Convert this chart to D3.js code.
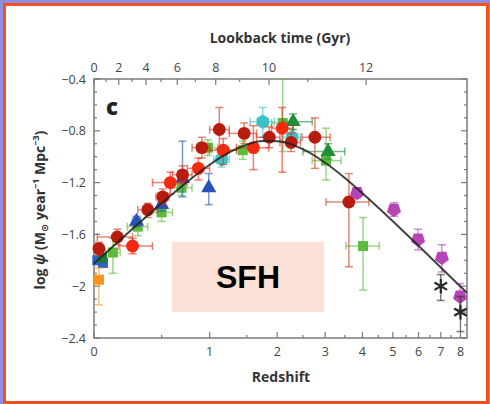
<!DOCTYPE html>
<html>
<head>
<meta charset="utf-8">
<title>SFH</title>
<script src="https://cdn.jsdelivr.net/npm/d3@7"></script>
<style>
  body { margin: 0; background: #8b90e4; }
  svg { display: block; }
  text { font-family: "Open Sans", "DejaVu Sans", sans-serif; }
  text.tag { font-family: "Liberation Sans", Arial, sans-serif; }
</style>
</head>
<body>
<svg width="490" height="404"></svg>
<script>
// tick values
var redshiftTicks = [0, 1, 2, 3, 4, 5, 6, 7, 8];
var redshiftMinor = [0.5, 1.5, 2.5, 3.5, 4.5, 5.5, 6.5, 7.5];
var lookbackTicks = [0, 2, 4, 6, 8, 10, 12];
var lookbackMinor = [1, 3, 5, 7, 9, 11];
var psiTicks = [-0.4, -0.8, -1.2, -1.6, -2, -2.4];
var psiLabels = ["\u22120.4", "\u22120.8", "\u22121.2", "\u22121.6", "\u22122", "\u22122.4"];

// cosmology for the lookback time axis
var H0 = 70, Om = 0.3, OL = 0.7;

// best fit curve: redshift / log psi
var fitZ = [0, 0.25, 0.5, 0.75, 1, 1.25, 1.5, 1.75, 2, 2.5, 3, 3.5, 4, 5, 6, 7, 8, 8.36];
var fitPsi = [-1.825, -1.566, -1.359, -1.193, -1.062, -0.967, -0.907, -0.879, -0.880, -0.942,
              -1.047, -1.164, -1.282, -1.498, -1.688, -1.855, -2.003, -2.051];

// measurements: [z, zLow, zHigh, logPsi, logPsiLow, logPsiHigh]
var greenSquares = [
  [0.12, 0.07, 0.17, -1.74, -1.90, -1.63],
  [0.30, 0.22, 0.38, -1.54, -1.61, -1.47],
  [0.50, 0.40, 0.60, -1.43, -1.50, -1.36],
  [0.69, 0.58, 0.80, -1.24, -1.30, -1.18],
  [0.98, 0.85, 1.10, -0.93, -0.99, -0.87],
  [1.44, 1.25, 1.65, -0.95, -1.02, -0.88],
  [2.10, 1.90, 2.30, -0.74, -0.96, -0.40],
  [3.02, 2.70, 3.40, -1.03, -1.18, -0.78],
  [4.02, 3.53, 4.53, -1.69, -2.03, -1.47]
];
var blueSquares = [
  [0.02, 0.02, 0.02, -1.80, -1.83, -1.77],
  [0.055, 0.055, 0.055, -1.82, -1.85, -1.79]
];
var darkGreenSquares = [
  [0.05, 0.05, 0.05, -1.78, -1.81, -1.75]
];
var blueTriangles = [
  [0.29, 0.26, 0.32, -1.50, -1.54, -1.46],
  [0.50, 0.47, 0.53, -1.37, -1.42, -1.32],
  [0.70, 0.70, 0.70, -1.17, -1.31, -0.88],
  [0.99, 0.99, 0.99, -1.24, -1.37, -1.13]
];
var cyanHexagons = [
  [1.15, 1.05, 1.25, -1.02, -1.08, -0.96],
  [1.75, 1.55, 1.95, -0.73, -0.85, -0.62],
  [2.28, 2.10, 2.45, -0.85, -0.91, -0.79]
];
var darkGreenTriangles = [
  [2.30, 2.10, 2.70, -0.73, -0.79, -0.67],
  [3.07, 2.50, 3.50, -0.96, -1.02, -0.90]
];
var redCircles = [
  [0.26, 0.16, 0.42, -1.69, -1.75, -1.63],
  [0.58, 0.42, 0.75, -1.20, -1.29, -1.12],
  [0.87, 0.75, 1.00, -1.09, -1.18, -1.01],
  [1.17, 1.00, 1.35, -0.95, -1.06, -0.86],
  [1.60, 1.35, 1.85, -0.93, -1.10, -0.76],
  [2.09, 1.90, 2.30, -0.78, -1.12, -0.62]
];
var darkRedCircles = [
  [0.03, 0.01, 0.05, -1.71, -1.76, -1.66],
  [0.15, 0.02, 0.26, -1.62, -1.68, -1.56],
  [0.38, 0.30, 0.46, -1.41, -1.47, -1.36],
  [0.51, 0.45, 0.57, -1.31, -1.37, -1.25],
  [0.70, 0.60, 0.80, -1.14, -1.21, -1.07],
  [0.91, 0.80, 1.00, -0.93, -1.01, -0.85],
  [1.12, 1.00, 1.25, -0.79, -0.94, -0.62],
  [1.46, 1.25, 1.65, -0.82, -0.90, -0.74],
  [1.86, 1.65, 2.05, -0.85, -0.93, -0.77],
  [2.26, 2.05, 2.45, -0.89, -0.96, -0.82],
  [2.76, 2.48, 3.12, -0.85, -1.09, -0.70],
  [3.61, 3.02, 4.20, -1.35, -1.85, -1.13]
];
var magentaPentagons = [
  [3.84, 3.84, 3.84, -1.28, -1.32, -1.24],
  [5.04, 5.04, 5.04, -1.41, -1.46, -1.355],
  [5.98, 5.98, 5.98, -1.64, -1.72, -1.56],
  [7.05, 7.05, 7.05, -1.78, -1.89, -1.68],
  [7.98, 7.98, 7.98, -2.08, -2.18, -1.98]
];
var blackStars = [
  [7.0, 7.0, 7.0, -2.00, -2.11, -1.91],
  [8.0, 8.0, 8.0, -2.20, -2.35, -2.08]
];
var orangeSquares = [
  [0.03, 0.03, 0.03, -1.95, -2.145, -1.86]
];

var svg = d3.select("svg");
var plotLeft = 94, plotRight = 467, plotTop = 79, plotBottom = 338;

// frame
svg.append("rect").attr("x", 4.5).attr("y", 4.5).attr("width", 483).attr("height", 398)
  .attr("fill", "#fff").attr("stroke", "#f4511e").attr("stroke-width", 3);

// x is log(1+z)
var x = d3.scaleLog().domain([1, 9.36]).range([plotLeft, plotRight]);
var y = d3.scaleLinear().domain([-2.4, -0.4]).range([plotBottom, plotTop]);
function xz(z) { return x(1 + z); }

// lookback time in Gyr
function lookback(z) {
  var n = 400, h = z / n, s = 0;
  for (var i = 0; i <= n; i++) {
    var zz = i * h;
    var f = 1 / ((1 + zz) * Math.sqrt(Om * Math.pow(1 + zz, 3) + OL));
    s += (i == 0 || i == n ? 0.5 : 1) * f;
  }
  return 977.8 / H0 * s * h;
}
function zAtLookback(t) {
  var lo = 0, hi = 20;
  for (var k = 0; k < 60; k++) {
    var mid = (lo + hi) / 2;
    if (lookback(mid) < t) lo = mid; else hi = mid;
  }
  return (lo + hi) / 2;
}

var axisColor = "#7b7b7b";
var g = svg.append("g");

// plot box
g.append("rect").attr("x", plotLeft).attr("y", plotTop)
  .attr("width", plotRight - plotLeft).attr("height", plotBottom - plotTop)
  .attr("fill", "none").attr("stroke", axisColor).attr("stroke-width", 1.5);

// bottom ticks
redshiftTicks.forEach(function(z) {
  g.append("line").attr("x1", xz(z)).attr("x2", xz(z)).attr("y1", plotBottom).attr("y2", plotBottom - 6)
    .attr("stroke", axisColor).attr("stroke-width", 1.2);
  g.append("text").attr("x", xz(z)).attr("y", 356).attr("text-anchor", "middle")
    .attr("font-size", 12.5).attr("fill", "#444").text(z);
});
redshiftMinor.forEach(function(z) {
  g.append("line").attr("x1", xz(z)).attr("x2", xz(z)).attr("y1", plotBottom).attr("y2", plotBottom - 3)
    .attr("stroke", axisColor).attr("stroke-width", 1.2);
});

// top ticks, lookback time
lookbackTicks.forEach(function(t) {
  var px = xz(zAtLookback(t));
  g.append("line").attr("x1", px).attr("x2", px).attr("y1", plotTop).attr("y2", plotTop + 6)
    .attr("stroke", axisColor).attr("stroke-width", 1.2);
  g.append("text").attr("x", px).attr("y", 72).attr("text-anchor", "middle")
    .attr("font-size", 12.5).attr("fill", "#444").text(t);
});
lookbackMinor.forEach(function(t) {
  var px = xz(zAtLookback(t));
  g.append("line").attr("x1", px).attr("x2", px).attr("y1", plotTop).attr("y2", plotTop + 3)
    .attr("stroke", axisColor).attr("stroke-width", 1.2);
});

// y ticks on both sides
d3.range(-24, -3, 1).forEach(function(k) {
  var v = k / 10;
  var len = (k % 4 == 0) ? 6 : 3;
  g.append("line").attr("x1", plotLeft).attr("x2", plotLeft + len).attr("y1", y(v)).attr("y2", y(v))
    .attr("stroke", axisColor).attr("stroke-width", 1.2);
  g.append("line").attr("x1", plotRight).attr("x2", plotRight - len).attr("y1", y(v)).attr("y2", y(v))
    .attr("stroke", axisColor).attr("stroke-width", 1.2);
});
psiTicks.forEach(function(v, i) {
  g.append("text").attr("x", 86).attr("y", y(v) + 4.5).attr("text-anchor", "end")
    .attr("font-size", 12.5).attr("fill", "#444").text(psiLabels[i]);
});

// axis titles
svg.append("text").attr("x", 280).attr("y", 43).attr("text-anchor", "middle")
  .attr("font-size", 14).attr("font-weight", "bold").attr("fill", "#333").text("Lookback time (Gyr)");
svg.append("text").attr("x", 281).attr("y", 382).attr("text-anchor", "middle")
  .attr("font-size", 14).attr("font-weight", "bold").attr("fill", "#333").text("Redshift");
var yl = svg.append("text").attr("transform", "translate(45,210) rotate(-90)")
  .attr("text-anchor", "middle").attr("font-size", 14).attr("font-weight", "bold").attr("fill", "#333");
yl.append("tspan").text("log ");
yl.append("tspan").attr("font-style", "italic").text("\u03c8");
yl.append("tspan").text(" (M");
yl.append("tspan").attr("font-size", 10).attr("dy", 3).text("\u2299");
yl.append("tspan").attr("dy", -3).text(" year");
yl.append("tspan").attr("font-size", 9).attr("dy", -6).text("\u22121");
yl.append("tspan").attr("dy", 6).text(" Mpc");
yl.append("tspan").attr("font-size", 9).attr("dy", -6).text("\u22123");
yl.append("tspan").attr("dy", 6).text(")");

svg.append("text").attr("x", 106).attr("y", 115).attr("font-size", 22).attr("font-weight", "800")
  .attr("fill", "#222").text("c");

// markers
function polygon(n, r, rot) {
  var pts = d3.range(n).map(function(i) {
    var a = rot + i * 2 * Math.PI / n;
    return [r * Math.sin(a), -r * Math.cos(a)];
  });
  return "M" + pts.join("L") + "Z";
}
var shapes = {
  circle: d3.symbol(d3.symbolCircle, 130)(),
  square: d3.symbol(d3.symbolSquare, 100)(),
  triangle: d3.symbol(d3.symbolTriangle, 100)(),
  hexagon: polygon(6, 7.2, 0),
  pentagon: polygon(5, 7.4, Math.PI),
  star: d3.symbol(d3.symbolAsterisk, 150)()
};

var plot = svg.append("g");
plot.append("clipPath").attr("id", "clip").append("rect")
  .attr("x", plotLeft).attr("y", plotTop).attr("width", plotRight - plotLeft).attr("height", plotBottom - plotTop);

function drawSeries(data, shape, color, barColor) {
  var s = plot.append("g");
  var bars = s.append("g").attr("clip-path", "url(#clip)")
    .attr("stroke", barColor || color).attr("stroke-opacity", 0.6).attr("stroke-width", 1.5);
  data.forEach(function(d) {
    var px = xz(d[0]), py = y(d[3]);
    var y1 = y(d[4]), y2 = y(d[5]);
    bars.append("line").attr("x1", px).attr("x2", px).attr("y1", y1).attr("y2", y2);
    bars.append("line").attr("x1", px - 4).attr("x2", px + 4).attr("y1", y1).attr("y2", y1);
    bars.append("line").attr("x1", px - 4).attr("x2", px + 4).attr("y1", y2).attr("y2", y2);
    if (d[2] > d[1]) {
      var x1 = xz(d[1]), x2 = xz(d[2]);
      bars.append("line").attr("x1", x1).attr("x2", x2).attr("y1", py).attr("y2", py);
      bars.append("line").attr("x1", x1).attr("x2", x1).attr("y1", py - 4).attr("y2", py + 4);
      bars.append("line").attr("x1", x2).attr("x2", x2).attr("y1", py - 4).attr("y2", py + 4);
    }
  });
  s.selectAll("path.m").data(data).enter().append("path")
    .attr("class", "m")
    .attr("d", shapes[shape])
    .attr("transform", function(d) { return "translate(" + xz(d[0]) + "," + y(d[3]) + ")"; })
    .attr("fill", shape == "star" ? "none" : color)
    .attr("stroke", shape == "star" ? color : "none")
    .attr("stroke-width", 2.2);
}

drawSeries(greenSquares, "square", "#5dbb3b");
drawSeries(blueSquares, "square", "#2f62c4");
drawSeries(darkGreenSquares, "square", "#1e7a34");
drawSeries(blueTriangles, "triangle", "#2853b6");
drawSeries(cyanHexagons, "hexagon", "#3cc3c8");
drawSeries(darkGreenTriangles, "triangle", "#1f8e36");
drawSeries(redCircles, "circle", "#f22a10");
drawSeries(darkRedCircles, "circle", "#b71c0e", "#d23a22");
drawSeries(magentaPentagons, "pentagon", "#b544b5");
drawSeries(orangeSquares, "square", "#f7941d");
drawSeries(blackStars, "star", "#2a2a2a");

// fitted star formation history
var line = d3.line()
  .x(function(d, i) { return xz(fitZ[i]); })
  .y(function(d) { return y(d); })
  .curve(d3.curveMonotoneX);
plot.append("path").attr("d", line(fitPsi)).attr("fill", "none")
  .attr("stroke", "#222").attr("stroke-opacity", 0.85).attr("stroke-width", 2);

// label box
svg.append("rect").attr("x", 172).attr("y", 242).attr("width", 152).attr("height", 70)
  .attr("fill", "#fde0d6");
svg.append("text").attr("class", "tag").attr("x", 248).attr("y", 288).attr("text-anchor", "middle")
  .attr("font-size", 32).attr("font-weight", "bold").attr("fill", "#000").text("SFH");
</script>
</body>
</html>
